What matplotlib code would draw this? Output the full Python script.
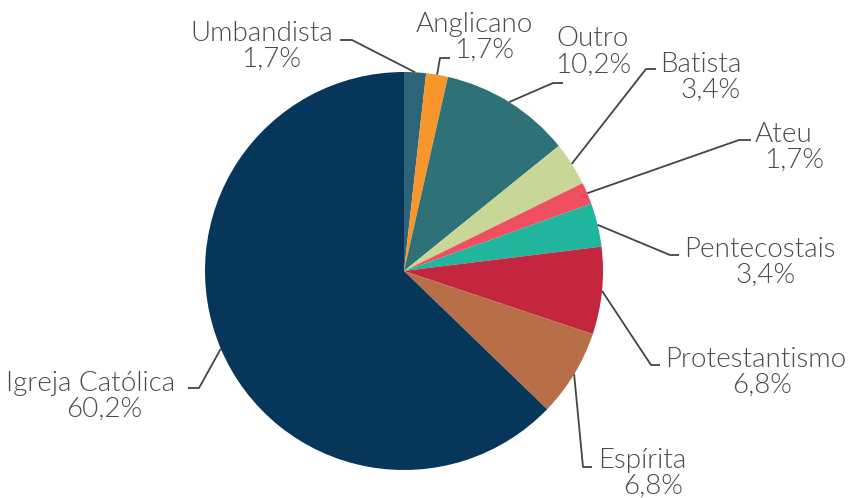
import numpy as np
import matplotlib.pyplot as plt
from matplotlib import font_manager

# data
labels = ["Umbandista", "Anglicano", "Outro", "Batista", "Ateu",
          "Pentecostais", "Protestantismo", "Espírita", "Igreja Católica"]
values = [1.7, 1.7, 10.2, 3.4, 1.7, 3.4, 6.8, 6.8, 60.2]
pct_text = ["1,7%", "1,7%", "10,2%", "3,4%", "1,7%", "3,4%", "6,8%", "6,8%", "60,2%"]
colors = ["#2b6577", "#f7962b", "#2e7278", "#c8d796", "#ef4f5e",
          "#22b59e", "#c4263f", "#b86f47", "#06365a"]

# layout in pixels (y from top): elbow, end of connector, name line, percent line
elbows = [(352, 40), (440, 58), (553, 83), (646, 69), (739, 140),
          (670, 255), (651, 365), (583, 467), (199, 388)]
ends = [(340, 40), (450, 58), (563, 83), (656, 69), (751, 140),
        (679, 255), (660, 365), (592, 467), (188, 388)]
name_pos = [(262, 41), (474, 32), (593, 46), (701, 72), (784, 142),
            (760, 257), (756, 367), (642, 468), (91, 391)]
pct_pos = [(271, 67), (484, 58), (593, 73), (710, 98), (794, 168),
           (765, 283), (762, 393), (653, 494), (104, 417)]

W, H = 849, 498
cx, cy, R = 404, 271, 199
text_color = "#4a4a4a"

lato = [f for f in font_manager.findSystemFonts() if "lato" in f.lower()]
print(sorted(lato))
light = [f for f in lato if f.lower().endswith("lato-light.ttf")]
if light:
    fp = font_manager.FontProperties(fname=light[0], size=20)
else:
    fp = font_manager.FontProperties(family="Lato", size=20)

fig = plt.figure(figsize=(W / 100, H / 100), dpi=100)
ax = fig.add_axes([0, 0, 1, 1])

wedges, _ = ax.pie(values, colors=colors, startangle=90, counterclock=False,
                   center=(cx, H - cy), radius=R,
                   wedgeprops=dict(linewidth=0))
ax.set_xlim(0, W)
ax.set_ylim(0, H)
ax.set_aspect("equal")
ax.axis("off")

for i, w in enumerate(wedges):
    mid = np.deg2rad((w.theta1 + w.theta2) / 2)
    sx = cx + R * np.cos(mid)
    sy = (H - cy) + R * np.sin(mid)
    ex, ey = elbows[i]
    tx, ty = ends[i]
    ax.plot([sx, ex, tx], [sy, H - ey, H - ty], color="#444444", lw=1.3,
            solid_capstyle="butt")
    ax.text(name_pos[i][0], H - name_pos[i][1], labels[i], ha="center",
            va="baseline", fontproperties=fp, color=text_color)
    ax.text(pct_pos[i][0], H - pct_pos[i][1], pct_text[i], ha="center",
            va="baseline", fontproperties=fp, color=text_color)

fig.savefig("out.png", dpi=100)
